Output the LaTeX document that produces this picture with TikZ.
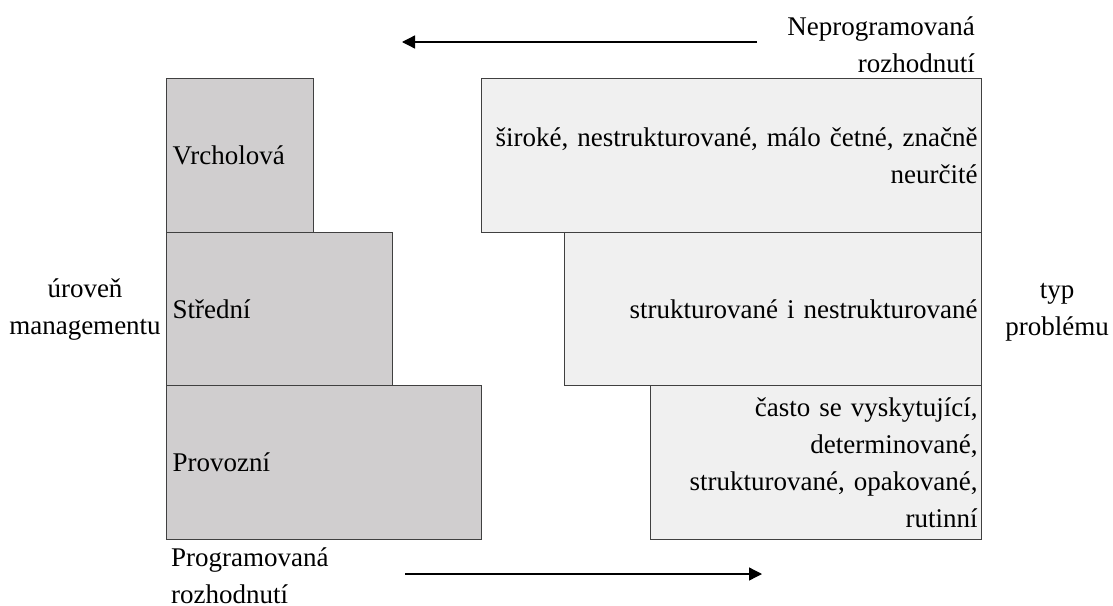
\documentclass[tikz,border=0pt]{standalone}
\usepackage{fontspec}
\setmainfont{Liberation Serif}
\usepackage{xcolor}
\usetikzlibrary{arrows.meta}
\definecolor{levelgray}{RGB}{208,206,207}
\definecolor{typegray}{RGB}{240,240,240}
\tikzset{
  levelbox/.style={draw=black!75, line width=1.2pt, fill=levelgray, anchor=north west,
    minimum height=153.5pt, inner xsep=6pt, inner ysep=0pt, align=left},
  typebox/.style={draw=black!75, line width=1.2pt, fill=typegray, anchor=north west,
    minimum height=153.5pt, inner xsep=4pt, inner ysep=0pt, align=right},
  sidelabel/.style={inner sep=0pt},
  decarrow/.style={line width=1.3pt, -{Triangle[length=13pt,width=13pt]}}
}

\begin{document}
\begin{tikzpicture}[x=1pt, y=-1pt, font=\fontsize{27}{37}\selectfont]
 \useasboundingbox (0,0) rectangle (1113,605);
%    levels of management
 \node[levelbox, text width=135pt] (top) at (166,78) {Vrcholová};
 \node[levelbox, text width=214pt] (middle) at (166,231.5) {Střední};
 \node[levelbox, text width=303pt] (operational) at (166,385) {Provozní};
%    types of problems
 \node[typebox, text width=492pt] (broad) at (481,78)
   {široké, nestrukturované, málo četné, značně\\neurčité};
 \node[typebox, text width=409pt] (mixed) at (564,231.5)
   {strukturované i nestrukturované};
 \node[typebox, text width=323pt] (routine) at (650,385)
   {často se vyskytující,\\determinované,\\strukturované, opakované,\\rutinní};
%    side labels
 \node[sidelabel, align=center] (level) at (85,309.5) {úroveň\\managementu};
 \node[sidelabel, align=center] (type) at (1057,312) {typ\\problému};
 \node[sidelabel, align=right, anchor=east] (unprog) at (975,44.5)
   {Neprogramovaná\\rozhodnutí};
 \node[sidelabel, align=left, anchor=west] (prog) at (171,575.5)
   {Programovaná\\rozhodnutí};
%    arrows
 \coordinate (unprogfrom) at (757,42);
 \coordinate (unprogto) at (402,42);
 \coordinate (progfrom) at (405,574);
 \coordinate (progto) at (762,574);
 \draw[decarrow] (unprogfrom) -- (unprogto);
 \draw[decarrow] (progfrom) -- (progto);
\end{tikzpicture}
\end{document}
